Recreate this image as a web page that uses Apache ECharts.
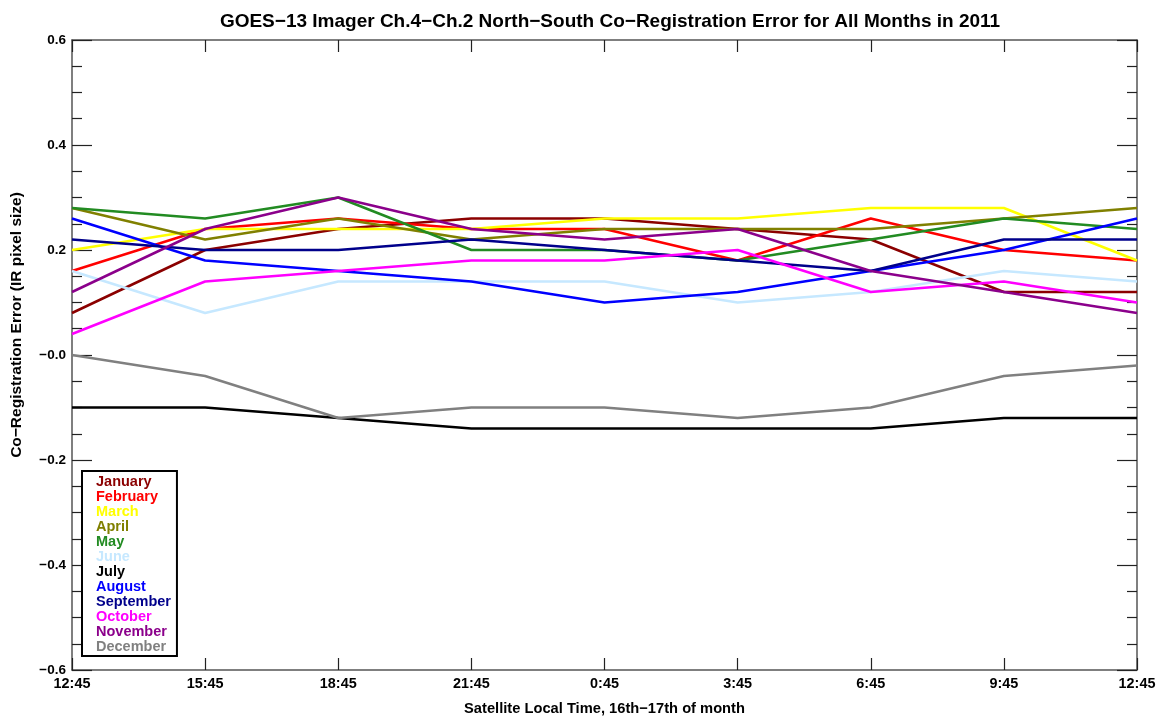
<!DOCTYPE html>
<html>
<head>
<meta charset="utf-8">
<script src="https://cdn.jsdelivr.net/npm/echarts@6/dist/echarts.min.js"></script>
<style>html,body{margin:0;padding:0;background:#fff}#c{width:1163px;height:719px}</style>
</head>
<body>
<div id="c"></div>
<script>
const times = ['12:45','15:45','18:45','21:45','0:45','3:45','6:45','9:45','12:45'];
const months = ['January','February','March','April','May','June','July','August','September','October','November','December'];
const colors = ['#8B0000','#FF0000','#FFFF00','#808000','#228B22','#C6E8FF','#000000','#0000FF','#00008B','#FF00FF','#8B008B','#808080'];
const january   = [0.08, 0.20, 0.24, 0.26, 0.26, 0.24, 0.22, 0.12, 0.12];
const february  = [0.16, 0.24, 0.26, 0.24, 0.24, 0.18, 0.26, 0.20, 0.18];
const march     = [0.20, 0.24, 0.24, 0.24, 0.26, 0.26, 0.28, 0.28, 0.18];
const april     = [0.28, 0.22, 0.26, 0.22, 0.24, 0.24, 0.24, 0.26, 0.28];
const may       = [0.28, 0.26, 0.30, 0.20, 0.20, 0.18, 0.22, 0.26, 0.24];
const june      = [0.16, 0.08, 0.14, 0.14, 0.14, 0.10, 0.12, 0.16, 0.14];
const july      = [-0.10, -0.10, -0.12, -0.14, -0.14, -0.14, -0.14, -0.12, -0.12];
const august    = [0.26, 0.18, 0.16, 0.14, 0.10, 0.12, 0.16, 0.20, 0.26];
const september = [0.22, 0.20, 0.20, 0.22, 0.20, 0.18, 0.16, 0.22, 0.22];
const october   = [0.04, 0.14, 0.16, 0.18, 0.18, 0.20, 0.12, 0.14, 0.10];
const november  = [0.12, 0.24, 0.30, 0.24, 0.22, 0.24, 0.16, 0.12, 0.08];
const december  = [0.00, -0.04, -0.12, -0.10, -0.10, -0.12, -0.10, -0.04, -0.02];
const allData = [january, february, march, april, may, june, july, august, september, october, november, december];

const FONT = 'Liberation Sans';
const AX = '#555';
const chart = echarts.init(document.getElementById('c'), null, {renderer: 'canvas'});

function yfmt(v) {
  const r = Math.round(v * 10) / 10;
  if (Math.abs(r) < 1e-9) return '\u22120.0';
  if (r < 0) return '\u2212' + Math.abs(r).toFixed(1);
  return r.toFixed(1);
}

const commonX = {
  type: 'category', data: times, boundaryGap: false,
  axisLine: {show: true, onZero: false, lineStyle: {color: AX, width: 1.5}},
  axisTick: {show: true, inside: true, length: 12, lineStyle: {color: '#222', width: 1.2}},
  splitLine: {show: false}
};
const commonY = {
  type: 'value', min: -0.6, max: 0.6, interval: 0.2,
  axisLine: {show: true, onZero: false, lineStyle: {color: AX, width: 1.5}},
  axisTick: {show: true, inside: true, length: 20, lineStyle: {color: '#222', width: 1.2}},
  minorTick: {show: true, splitNumber: 4, length: 10, lineStyle: {color: '#222', width: 1.2}},
  splitLine: {show: false}, minorSplitLine: {show: false}
};

chart.setOption({
  backgroundColor: '#fff',
  animation: false,
  title: {
    text: 'GOES\u221213 Imager Ch.4\u2212Ch.2 North\u2212South Co\u2212Registration Error for All Months in 2011',
    left: 605, top: 7, textAlign: 'center',
    textStyle: {fontFamily: FONT, fontWeight: 'bold', fontSize: 19, color: '#000'}
  },
  grid: {left: 72, right: 26, top: 40, bottom: 49, containLabel: false, outerBoundsMode: 'none'},
  legend: {
    orient: 'vertical', left: 82, top: 471,
    icon: 'none', itemWidth: 0, itemHeight: 14.8, itemGap: 0,
    padding: [3, 6, 2, 9],
    borderColor: '#000', borderWidth: 2, backgroundColor: '#fff',
    selectedMode: false,
    textStyle: {fontFamily: FONT, fontWeight: 'bold', fontSize: 14.5, lineHeight: 14.8},
    data: months.map((m, i) => ({name: m, textStyle: {color: colors[i]}}))
  },
  xAxis: [
    Object.assign({}, commonX, {
      position: 'bottom',
      name: 'Satellite Local Time, 16th\u221217th of month',
      nameLocation: 'middle', nameGap: 31,
      nameTextStyle: {fontFamily: FONT, fontWeight: 'bold', fontSize: 14.7, color: '#000'},
      axisLabel: {show: true, margin: 7, fontFamily: FONT, fontWeight: 'bold', fontSize: 14.4, color: '#000', interval: 0}
    }),
    Object.assign({}, commonX, {position: 'top', axisLabel: {show: false}})
  ],
  yAxis: [
    Object.assign({}, commonY, {
      position: 'left',
      name: 'Co\u2212Registration Error (IR pixel size)',
      nameLocation: 'middle', nameGap: 47, nameRotate: 90,
      nameTextStyle: {fontFamily: FONT, fontWeight: 'bold', fontSize: 15.5, color: '#000', padding: [0, 0, 0, 60]},
      axisLabel: {show: true, margin: 6, fontFamily: FONT, fontWeight: 'bold', fontSize: 13.5, color: '#000', formatter: yfmt}
    }),
    Object.assign({}, commonY, {position: 'right', axisLabel: {show: false}})
  ],
  series: months.map((m, i) => ({
    name: m, type: 'line', data: allData[i],
    xAxisIndex: 0, yAxisIndex: 0,
    symbol: 'none', smooth: false,
    lineStyle: {color: colors[i], width: 2.5},
    itemStyle: {color: colors[i]},
    emphasis: {disabled: true}
  }))
});
</script>
</body>
</html>
